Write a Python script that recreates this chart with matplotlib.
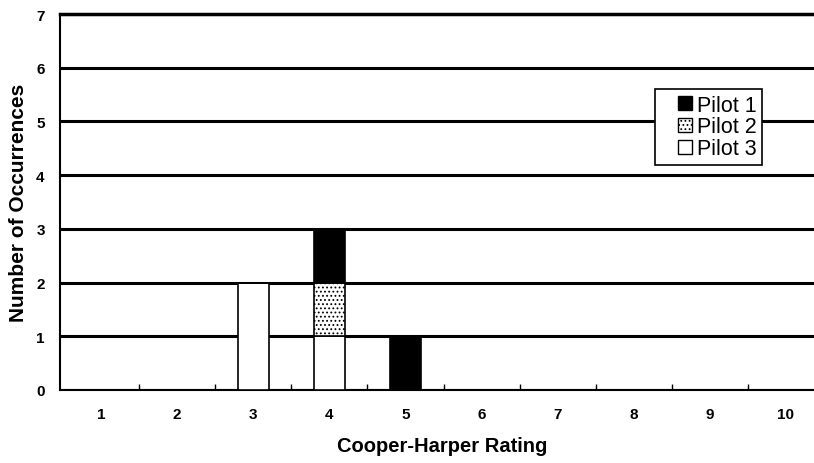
import numpy as np
import matplotlib
matplotlib.use("Agg")
import matplotlib.pyplot as plt
from matplotlib.patches import Rectangle
from matplotlib.legend_handler import HandlerPatch

plt.rcParams["font.family"] = ["Liberation Sans", "DejaVu Sans"]
plt.rcParams["hatch.linewidth"] = 0.8

ratings = [1, 2, 3, 4, 5, 6, 7, 8, 9, 10]
pilot1 = [0, 0, 0, 1, 1, 0, 0, 0, 0, 0]
pilot2 = [0, 0, 0, 1, 0, 0, 0, 0, 0, 0]
pilot3 = [0, 0, 2, 1, 0, 0, 0, 0, 0, 0]
series_names = ["Pilot 1", "Pilot 2", "Pilot 3"]

x = np.array(ratings)
p1 = np.array(pilot1)
p2 = np.array(pilot2)
p3 = np.array(pilot3)

fig = plt.figure(figsize=(8.14, 4.64), dpi=100)
ax = fig.add_axes([60 / 814, 73 / 464, 764 / 814, 376 / 464])

w = 0.4
b3 = ax.bar(x, p3, w, color="white", edgecolor="black", linewidth=1.2, zorder=3)
b2 = ax.bar(x, p2, w, bottom=p3, color="white", edgecolor="black", hatch="....",
            linewidth=1.2, zorder=3)
b1 = ax.bar(x, p1, w, bottom=p3 + p2, color="black", edgecolor="black",
            linewidth=1.2, zorder=3)

ax.set_xlim(0.46, 10.5)
ax.set_ylim(0, 7)
ax.set_yticks(range(0, 8))
ax.yaxis.grid(True, color="black", linewidth=2.2, zorder=1)
ax.set_axisbelow(True)

ax.set_xticks(ratings)
ax.set_xticks(np.arange(1.5, 10.5, 1.0), minor=True)
ax.tick_params(axis="x", which="major", length=0, pad=12, labelsize=11)
ax.tick_params(axis="x", which="minor", direction="in", length=4, width=1)
ax.tick_params(axis="y", length=0, pad=11, labelsize=11)
for lab in ax.get_xticklabels() + ax.get_yticklabels():
    lab.set_fontweight("bold")

for s in ["left", "bottom"]:
    ax.spines[s].set_linewidth(1.5)
ax.spines["top"].set_linewidth(2.5)

ax.set_xlabel("Cooper-Harper Rating", fontsize=14.5, fontweight="bold", labelpad=11)
ax.set_ylabel("Number of Occurrences", fontsize=15, fontweight="bold", labelpad=6)


# square legend keys pushed to the right of the handle box
def square_key(legend, orig_handle, xdescent, ydescent, width, height, fontsize):
    s = height * 1.0
    return Rectangle((width - s - xdescent, -ydescent + (height - s) / 2), s, s)


h1 = Rectangle((0, 0), 1, 1, facecolor="black", edgecolor="black")
h2 = Rectangle((0, 0), 1, 1, facecolor="white", edgecolor="black", hatch="....")
h3 = Rectangle((0, 0), 1, 1, facecolor="white", edgecolor="black")

leg = ax.legend([h1, h2, h3], series_names, loc="upper left",
                bbox_to_anchor=(0.779, 0.80), fontsize=15.5, frameon=True,
                fancybox=False, framealpha=1, edgecolor="black",
                handlelength=1.45, handleheight=0.62, handletextpad=0.25,
                labelspacing=0.04, borderpad=0.25, borderaxespad=0,
                handler_map={Rectangle: HandlerPatch(patch_func=square_key)})
leg.get_frame().set_linewidth(1.2)
leg.set_zorder(5)

fig.savefig("out.png", dpi=100)
